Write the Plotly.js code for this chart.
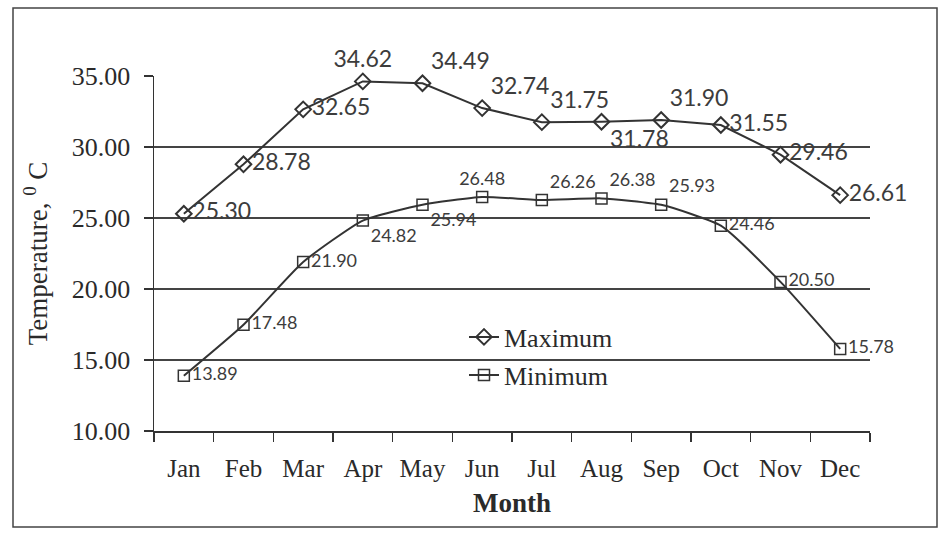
<!DOCTYPE html>
<html>
<head>
<meta charset="utf-8">
<script src="https://cdn.plot.ly/plotly-3.0.1.min.js"></script>
<style>html,body{margin:0;padding:0;background:#fff;}#chart{width:943px;height:536px;}</style>
</head>
<body>
<div id="chart"></div>
<script>
const months = ["Jan","Feb","Mar","Apr","May","Jun","Jul","Aug","Sep","Oct","Nov","Dec"];
const maxTemp = [25.30, 28.78, 32.65, 34.62, 34.49, 32.74, 31.75, 31.78, 31.90, 31.55, 29.46, 26.61];
const minTemp = [13.89, 17.48, 21.90, 24.82, 25.94, 26.48, 26.26, 26.38, 25.93, 24.46, 20.50, 15.78];
const yTickVals = [10, 15, 20, 25, 30, 35];
const yTickText = ["10.00","15.00","20.00","25.00","30.00","35.00"];
const maxLabelPos = ["middle right","middle right","middle right","top center","top right","top right","top right","bottom right","top right","middle right","middle right","middle right"];
const minLabelPos = ["middle right","middle right","middle right","bottom right","bottom right","top center","top right","top right","top right","middle right","middle right","middle right"];

const ink = "#333333";
const serif = "'Liberation Serif', 'Times New Roman', serif";
const labelFont = "Lato, 'Open Sans', sans-serif";
const traces = [
  {
    x: months, y: maxTemp, name: "Maximum", type: "scatter", mode: "lines+markers+text",
    text: maxTemp.map(v => v.toFixed(2)), textposition: maxLabelPos,
    textfont: {family: labelFont, size: 23, color: "#3c3c3c"},
    line: {color: ink, width: 2},
    marker: {symbol: "diamond-open", size: 12, color: ink, line: {width: 2, color: ink}},
    legend: "legend", cliponaxis: false
  },
  {
    x: months, y: minTemp, name: "Minimum", type: "scatter", mode: "lines+markers+text",
    text: minTemp.map(v => v.toFixed(2)), textposition: minLabelPos,
    textfont: {family: labelFont, size: 18, color: "#3c3c3c"},
    line: {color: ink, width: 2, shape: "spline", smoothing: 0.5},
    marker: {symbol: "square-open", size: 11, color: ink, line: {width: 1.5, color: ink}},
    legend: "legend2", cliponaxis: false
  }
];

const L = 154, R = 870, T = 76, B = 431, W = 943, H = 536;
const px = x => (x - L) / (R - L);
const py = y => (B - y) / (B - T);

const layout = {
  width: W, height: H,
  margin: {l: L, r: W - R, t: T, b: H - B},
  paper_bgcolor: "#ffffff", plot_bgcolor: "#ffffff",
  showlegend: true,
  font: {family: serif, color: "#2a2a2a"},
  xaxis: {
    type: "category", range: [-0.5, months.length - 0.5], autorange: false,
    tickson: "boundaries", ticks: "outside", ticklen: 9, tickwidth: 1.2, tickcolor: "#333",
    showline: true, linecolor: "#333", linewidth: 1.5, showgrid: false, zeroline: false,
    tickfont: {family: serif, size: 25, color: "#2a2a2a"},
    ticklabelstandoff: 14,
    title: {text: "<b>Month</b>", font: {family: serif, size: 27, color: "#2a2a2a"}, standoff: 12}
  },
  yaxis: {
    range: [10, 35], autorange: false, tickvals: yTickVals, ticktext: yTickText,
    ticks: "outside", ticklen: 9, tickcolor: "#333", tickwidth: 1.2,
    showline: true, linecolor: "#333", linewidth: 1.5,
    showgrid: true, gridcolor: "#444", gridwidth: 1.3, zeroline: false,
    tickfont: {family: serif, size: 26, color: "#2a2a2a"},
    ticklabelstandoff: 8,
    title: {text: "Temperature, <sup>0</sup> C", font: {family: serif, size: 27, color: "#2a2a2a"}, standoff: 16}
  },
  legend: {
    x: px(464), y: py(337), xanchor: "left", yanchor: "middle",
    bgcolor: "rgba(0,0,0,0)", font: {family: serif, size: 26, color: "#2a2a2a"}
  },
  legend2: {
    x: px(464), y: py(375), xanchor: "left", yanchor: "middle",
    bgcolor: "rgba(0,0,0,0)", font: {family: serif, size: 26, color: "#2a2a2a"}
  },
  shapes: [{
    type: "rect", xref: "paper", yref: "paper",
    x0: px(13), x1: px(937), y0: py(527), y1: py(8),
    line: {color: "#444", width: 1.5}
  }]
};

Plotly.newPlot("chart", traces, layout, {displayModeBar: false, staticPlot: true});
</script>
</body>
</html>
